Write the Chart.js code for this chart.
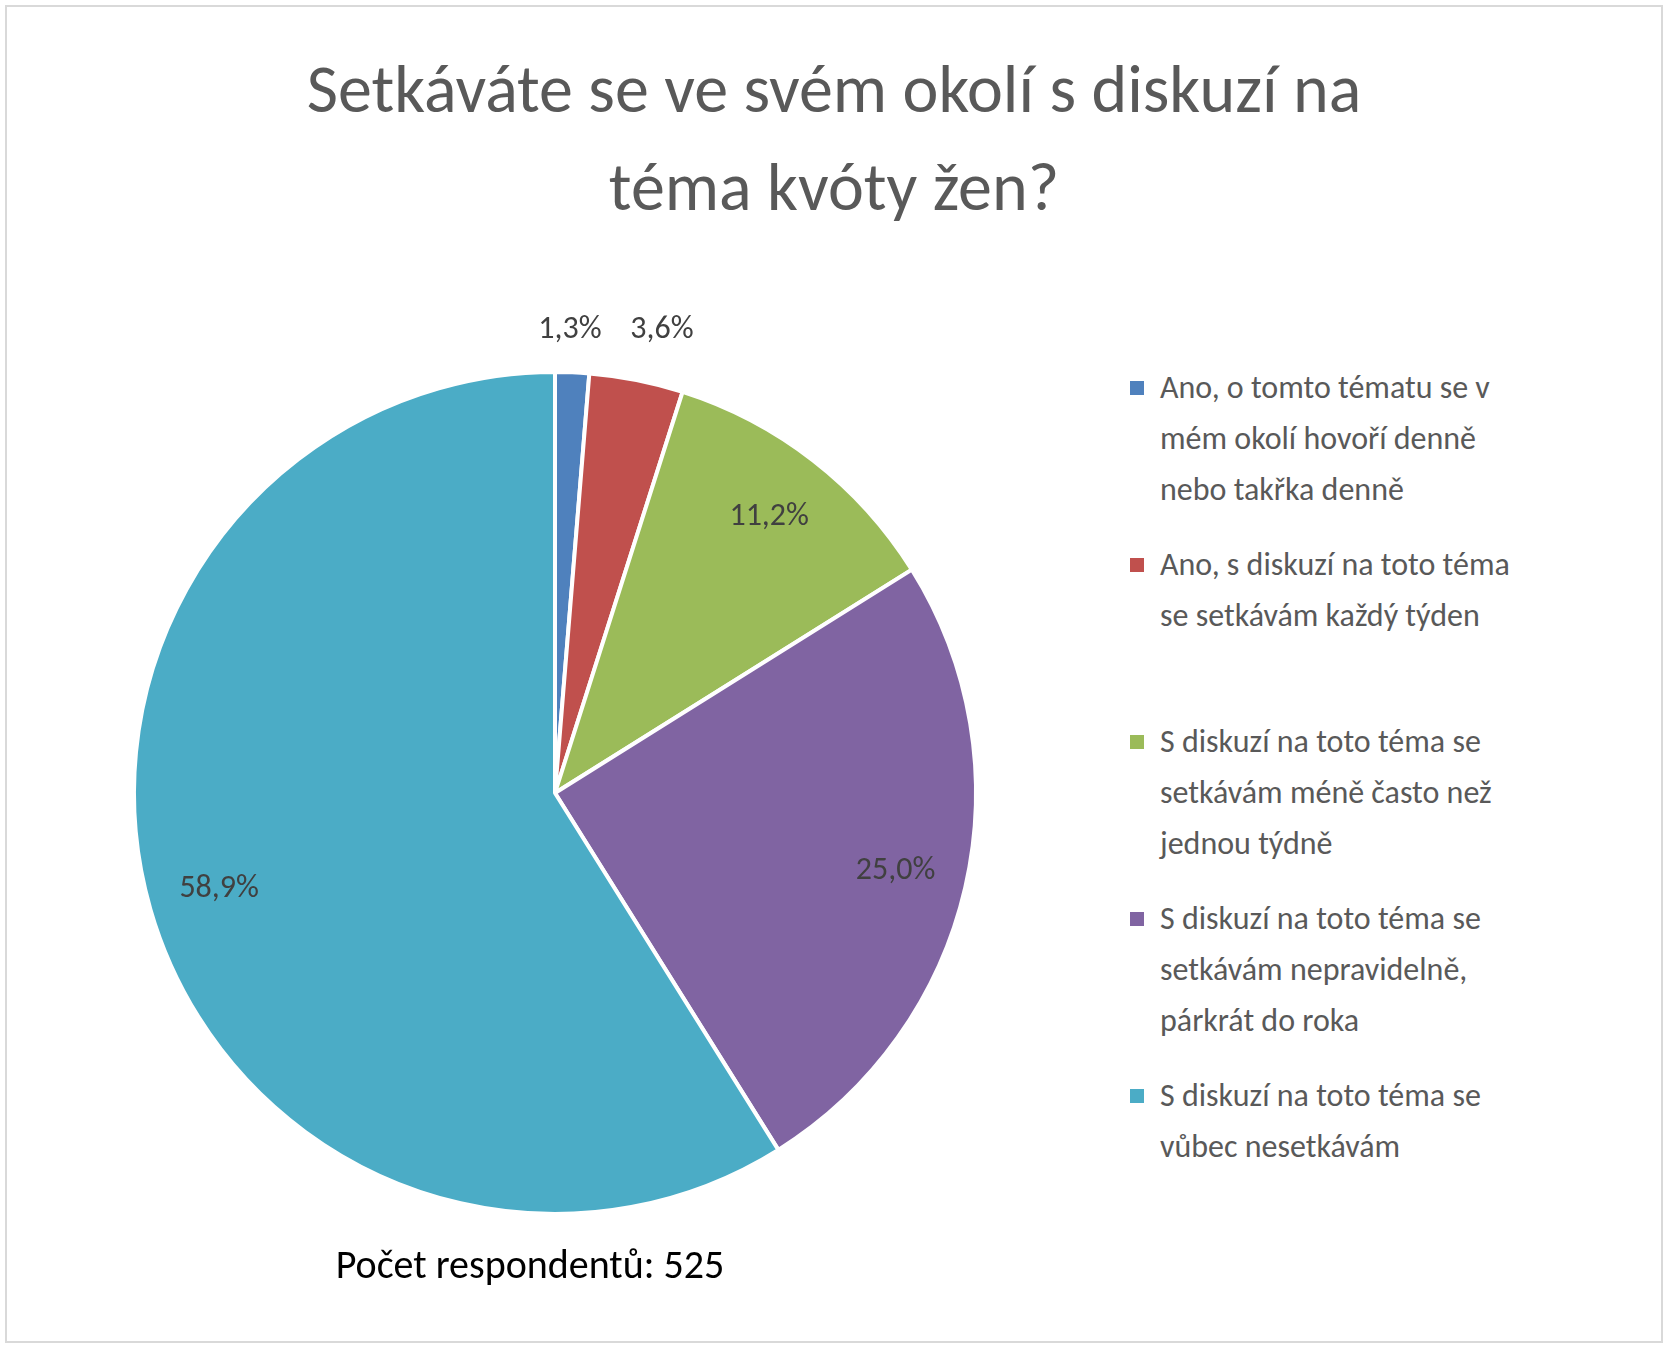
<!DOCTYPE html>
<html>
<head>
<meta charset="utf-8">
<script src="https://cdn.jsdelivr.net/npm/chart.js@4/dist/chart.umd.min.js"></script>
<style>
  body { margin: 0; background: #fff; font-family: Calibri, Carlito, "Open Sans", sans-serif; }
  #frame { position: absolute; left: 5px; top: 5px; width: 1654px; height: 1334px; border: 2px solid #d9d9d9; }
  #title { position: absolute; left: 0; width: 1668px; top: 40px; text-align: center; font-size: 68px; line-height: 98px; color: #595959; }
  #pie-wrap { position: absolute; left: 55px; top: 260px; width: 1000px; height: 1066px; }
  #legend { position: absolute; left: 1130px; top: 362px; width: 520px; font-size: 32px; line-height: 51px; color: #595959; }
  .item { position: relative; padding-left: 30px; margin-bottom: 24px; }
  .item .box { position: absolute; left: 0; top: 19px; width: 14px; height: 14px; }
  #note { position: absolute; left: 0; width: 1060px; top: 1240px; text-align: center; font-size: 40px; color: #000; }
</style>
</head>
<body>
<div id="frame"></div>
<div id="title">Setkáváte se ve svém okolí s diskuzí na<br>téma kvóty žen?</div>
<div id="pie-wrap"><canvas id="pie"></canvas></div>
<div id="legend"></div>
<div id="note">Počet respondentů: 525</div>
<script>
const categories = [
  'Ano, o tomto tématu se v mém okolí hovoří denně nebo takřka denně',
  'Ano, s diskuzí na toto téma se setkávám každý týden',
  'S diskuzí na toto téma se setkávám méně často než jednou týdně',
  'S diskuzí na toto téma se setkávám nepravidelně, párkrát do roka',
  'S diskuzí na toto téma se vůbec nesetkávám'
];
const legendLines = [
  ['Ano, o tomto tématu se v', 'mém okolí hovoří denně', 'nebo takřka denně'],
  ['Ano, s diskuzí na toto téma', 'se setkávám každý týden', ''],
  ['S diskuzí na toto téma se', 'setkávám méně často než', 'jednou týdně'],
  ['S diskuzí na toto téma se', 'setkávám nepravidelně,', 'párkrát do roka'],
  ['S diskuzí na toto téma se', 'vůbec nesetkávám']
];
const values = [1.3, 3.6, 11.2, 25.0, 58.9];
const colors = ['#4F81BD', '#C0504D', '#9BBB59', '#8064A2', '#4BACC6'];

const legend = document.getElementById('legend');
legendLines.forEach((lines, i) => {
  const el = document.createElement('div');
  el.className = 'item';
  el.innerHTML = '<span class="box" style="background:' + colors[i] + '"></span>' +
    lines.map(l => l || '&nbsp;').join('<br>');
  legend.appendChild(el);
});

const labelPlugin = {
  id: 'sliceLabels',
  afterDraw(chart) {
    const ctx = chart.ctx;
    const meta = chart.getDatasetMeta(0);
    ctx.save();
    ctx.font = '32px Calibri, Carlito, "Open Sans", sans-serif';
    ctx.fillStyle = '#404040';
    ctx.textAlign = 'center';
    ctx.textBaseline = 'middle';
    meta.data.forEach((arc, i) => {
      const mid = (arc.startAngle + arc.endAngle) / 2;
      const small = values[i] < 5;
      const r = arc.outerRadius * (small ? 1.1 : 0.83);
      let x = arc.x + Math.cos(mid) * r;
      let y = arc.y + Math.sin(mid) * r;
      if (small) { y = arc.y - arc.outerRadius * 1.1; x = arc.x + (i === 0 ? 15 : 107); }
      ctx.fillText(values[i].toFixed(1).replace('.', ',') + '%', x, y);
    });
    ctx.restore();
  }
};

new Chart(document.getElementById('pie'), {
  type: 'pie',
  data: {
    labels: categories,
    datasets: [{ data: values, backgroundColor: colors, borderColor: '#fff', borderWidth: 4 }]
  },
  options: {
    responsive: true,
    maintainAspectRatio: false,
    animation: false,
    layout: { padding: { left: 77, right: 77, top: 110, bottom: 110 } },
    plugins: { legend: { display: false }, tooltip: { enabled: false } }
  },
  plugins: [labelPlugin]
});
</script>
</body>
</html>
